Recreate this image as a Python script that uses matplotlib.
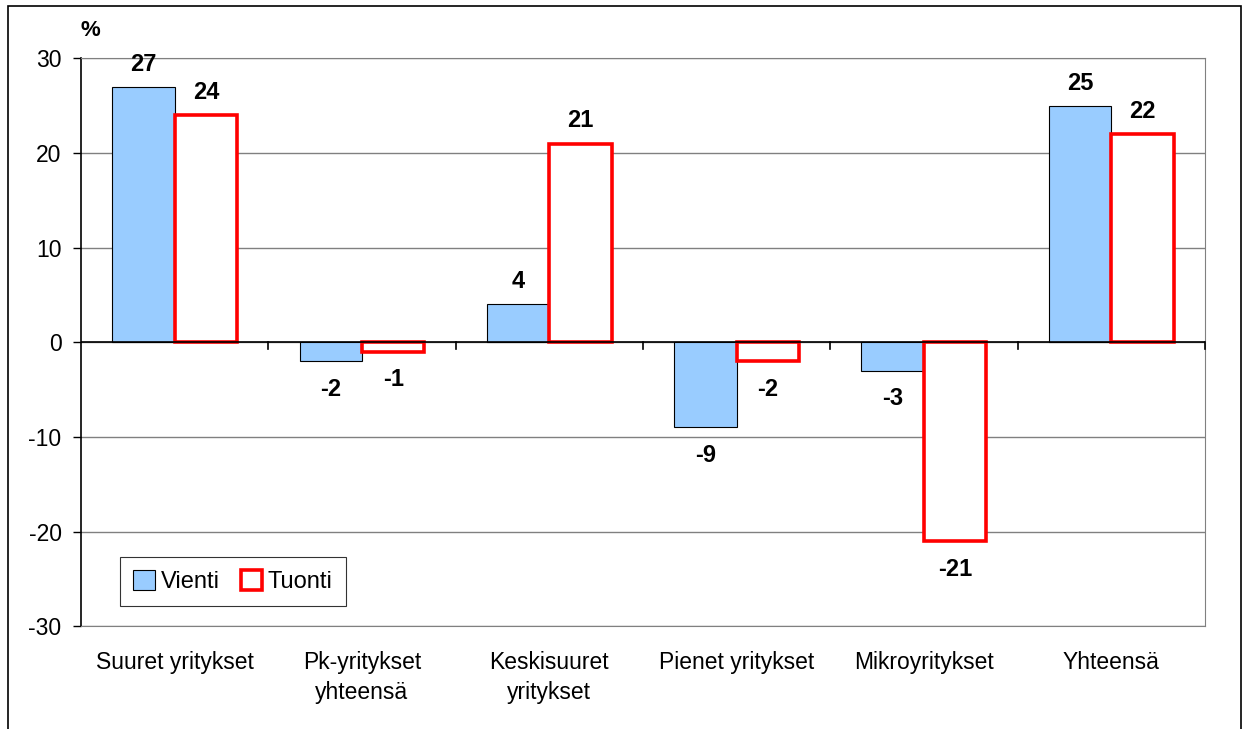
import numpy as np
import matplotlib.pyplot as plt
from matplotlib.patches import Rectangle

categories = ['Suuret yritykset', 'Pk-yritykset\nyhteensä', 'Keskisuuret\nyritykset',
              'Pienet yritykset', 'Mikroyritykset', 'Yhteensä']
vienti = [27, -2, 4, -9, -3, 25]
tuonti = [24, -1, 21, -2, -21, 22]

plt.rcParams['font.family'] = ['Liberation Sans', 'DejaVu Sans']
plt.rcParams['axes.unicode_minus'] = False

fig = plt.figure(figsize=(12.46, 7.29), dpi=100)
ax = fig.add_axes([0.065, 0.141, 0.902, 0.779])

x = np.arange(len(categories))
w = 1 / 3
b1 = ax.bar(x - w / 2, vienti, w, color='#99CCFF', edgecolor='black', linewidth=0.8,
            label='Vienti', zorder=3)
b2 = ax.bar(x + w / 2, tuonti, w, color='white', edgecolor='#FF0000', linewidth=2.6,
            label='Tuonti', zorder=3)

# arvot pylväiden päälle
for bars, vals in ((b1, vienti), (b2, tuonti)):
    for r, v in zip(bars, vals):
        cx = r.get_x() + r.get_width() / 2
        if v >= 0:
            ax.annotate(str(v), (cx, v), xytext=(0, 8), textcoords='offset points',
                        ha='center', va='bottom', fontsize=17, fontweight='bold')
        else:
            ax.annotate(str(v), (cx, v), xytext=(0, -12), textcoords='offset points',
                        ha='center', va='top', fontsize=17, fontweight='bold')

ax.set_xlim(-0.5, len(categories) - 0.5)
ax.set_ylim(-30, 30)
ax.set_yticks(range(-30, 31, 10))
ax.yaxis.grid(True, color='#808080', linewidth=1, zorder=0)
ax.tick_params(axis='y', labelsize=16.5, direction='out', length=6, width=1, pad=8)

ax.set_xticks(x)
ax.set_xticklabels(categories, fontsize=16.5, linespacing=1.35)
ax.tick_params(axis='x', length=0, pad=18)
for lbl in ax.get_xticklabels():
    lbl.set_verticalalignment('top')

for s in ('top', 'right', 'bottom'):
    ax.spines[s].set_color('#808080')
ax.spines['left'].set_color('black')
ax.spines['left'].set_linewidth(1.2)

# nollaviiva ja väliviivat
ax.axhline(0, color='black', linewidth=1.2, zorder=4)
for b in np.arange(-0.5, len(categories), 1)[1:]:
    ax.plot([b, b], [0, -0.7], color='black', linewidth=1.2, zorder=4, clip_on=False)

ax.text(-0.505, 31.8, '%', fontsize=16, fontweight='bold', ha='left', va='bottom')

leg = ax.legend(loc='lower left', bbox_to_anchor=(0.035, 0.035), borderaxespad=0, ncol=2,
                fontsize=17, frameon=True, fancybox=False, edgecolor='black',
                handlelength=0.9, handleheight=0.9, handletextpad=0.25, columnspacing=0.9,
                borderpad=0.55)
leg.get_frame().set_linewidth(0.8)

fig.patches.append(Rectangle((8 / 1246, -0.05), (1241 - 8) / 1246, 1.05 - 6 / 729,
                             transform=fig.transFigure, fill=False, edgecolor='black',
                             linewidth=1.2))

fig.savefig('out.png', dpi=100)
